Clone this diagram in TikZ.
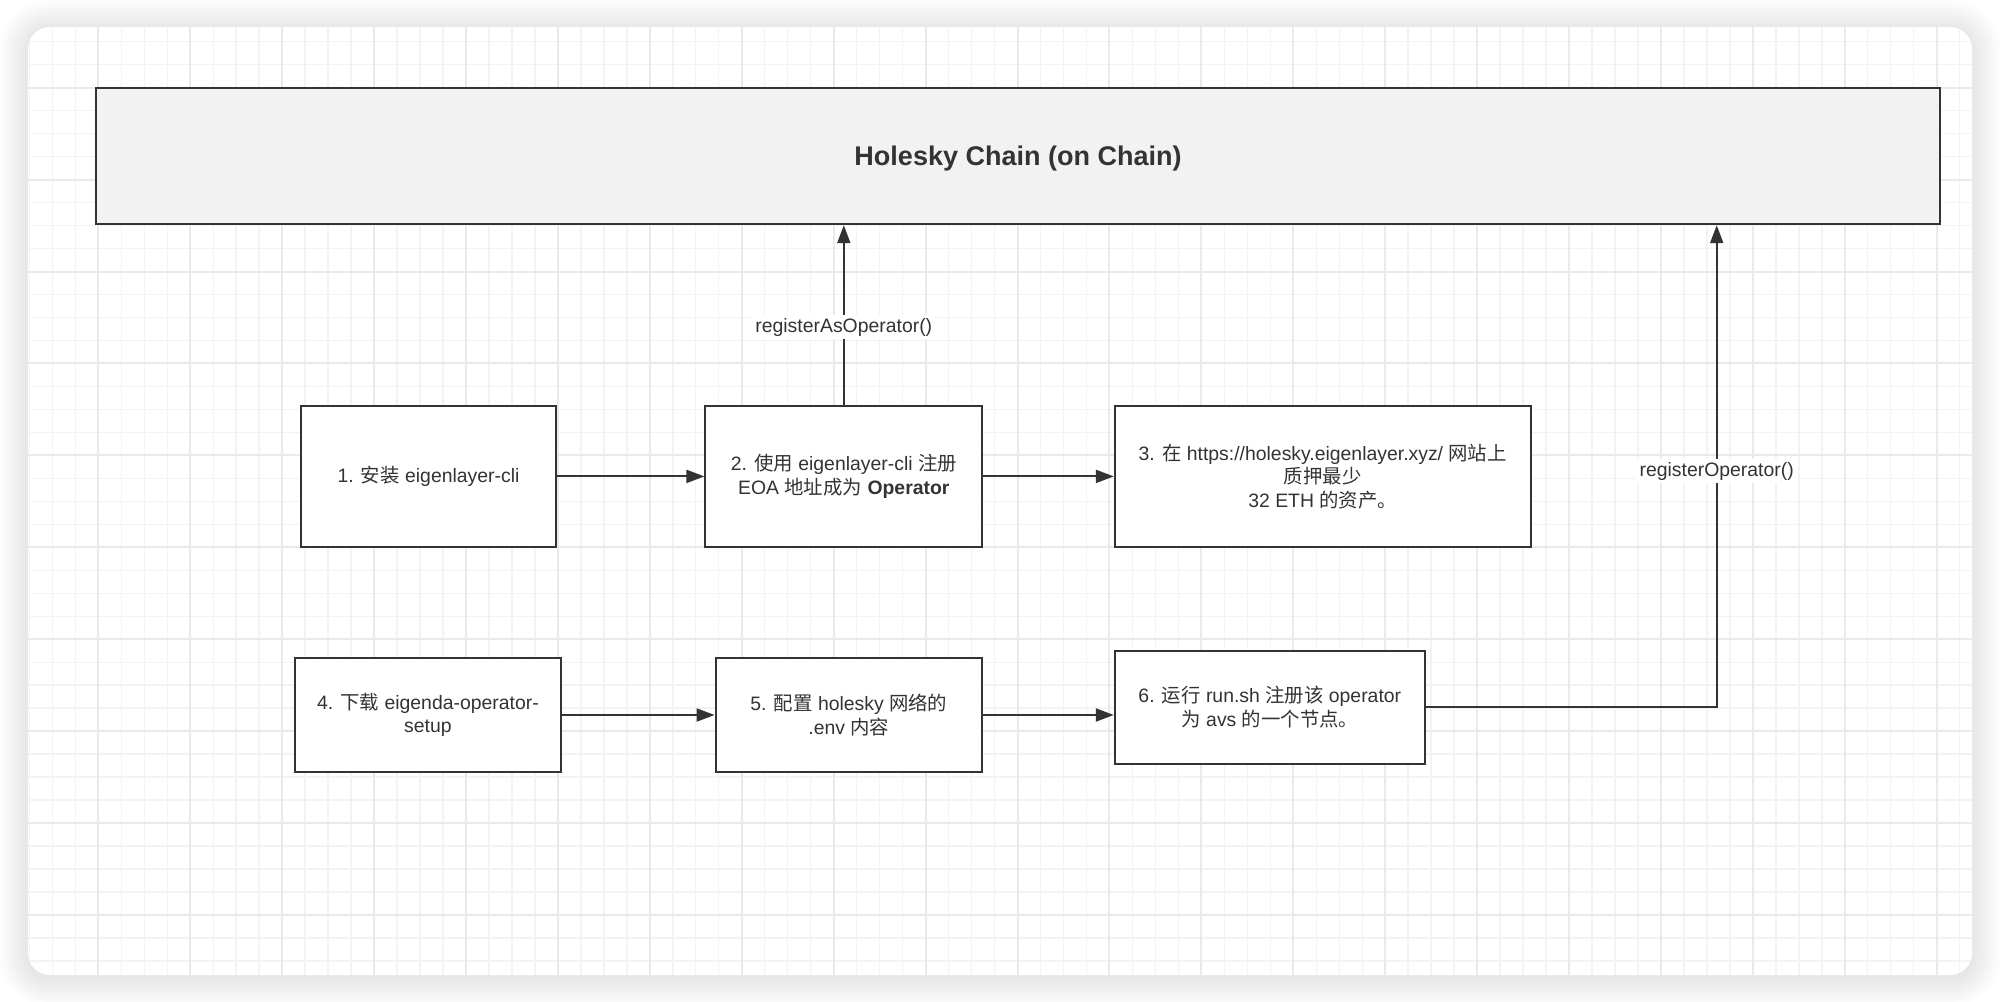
\documentclass[tikz,border=0pt]{standalone}
\usepackage{fontspec}
\setmainfont{Liberation Sans}
\newfontfamily\cjk{Noto Sans CJK SC}
\usetikzlibrary{arrows.meta}
\definecolor{ink}{HTML}{333333}
\definecolor{chainfill}{HTML}{F2F2F2}
\definecolor{gridminor}{HTML}{F3F3F3}
\definecolor{gridmajor}{HTML}{EAEAEA}
\def\cardpath{(28,27) rectangle (1972,975)}
\tikzset{
  stepbox/.style={draw=ink,fill=white,line width=1pt,align=center,text=ink,
    inner sep=2pt,font=\fontsize{9.7}{11.8}\selectfont},
  flow/.style={draw=ink,line width=1pt,-{Triangle[length=9pt,width=6.5pt]}},
  lbl/.style={fill=white,text=ink,inner sep=1.5pt,font=\fontsize{9.7}{11.8}\selectfont}
}

\begin{document}
\begin{tikzpicture}[x=0.5pt,y=-0.5pt]
			\useasboundingbox (0,0) rectangle (2000,1001);
			\fill[white] (0,0) rectangle (2000,1001);
			% soft shadow round the card
			\foreach \i in {1,...,12}
				\fill[black,opacity=0.009,rounded corners=11pt+1.2*\i pt]
					(28-2.4*\i,27-2.4*\i+2) rectangle (1972+2.4*\i,975+2.4*\i+3);
			\fill[white,rounded corners=11pt] \cardpath;
			\begin{scope}
				\clip[rounded corners=11pt] \cardpath;
				\foreach \k in {-3,...,81}
					\draw[gridminor,line width=0.7pt] ({98.3+22.98*\k},27) -- ({98.3+22.98*\k},975);
				\foreach \k in {-2,...,38}
					\draw[gridminor,line width=0.7pt] (28,{87.7+22.98*\k}) -- (1972,{87.7+22.98*\k});
				\foreach \k in {0,...,20}
					\draw[gridmajor,line width=1pt] ({98.3+91.92*\k},27) -- ({98.3+91.92*\k},975);
				\foreach \k in {0,...,9}
					\draw[gridmajor,line width=1pt] (28,{87.7+91.92*\k}) -- (1972,{87.7+91.92*\k});
			\end{scope}

			\node[draw=ink,fill=chainfill,line width=1.2pt,minimum width=922pt,minimum height=68pt,
				text=ink,font=\fontsize{13.5}{16}\selectfont\bfseries] (chain) at (1018,156) {};
			\node[text=ink,font=\fontsize{13.5}{16}\selectfont\bfseries] (title) at (1018,159) {Holesky Chain (on Chain)};

			\node[stepbox,minimum width=127.5pt,minimum height=70.8pt] (install) at (428.5,476.4)
				{1. {\cjk 安装} eigenlayer-cli};
			\node[stepbox,minimum width=138.4pt,minimum height=70.8pt] (register) at (843.8,476.4)
				{2. {\cjk 使用} eigenlayer-cli {\cjk 注册}\\EOA {\cjk 地址成为} \textbf{Operator}};
			\node[stepbox,minimum width=207.9pt,minimum height=70.8pt] (stake) at (1322.7,476.4)
				{3. {\cjk 在} https://holesky.eigenlayer.xyz/ {\cjk 网站上}\\{\cjk 质押最少}\\32 ETH {\cjk 的资产。}};
			\node[stepbox,minimum width=133.3pt,minimum height=56.8pt] (download) at (427.9,715)
				{4. {\cjk 下载} eigenda-operator-\\setup};
			\node[stepbox,minimum width=133.3pt,minimum height=56.8pt] (config) at (848.9,715)
				{5. {\cjk 配置} holesky {\cjk 网络的}\\.env {\cjk 内容}};
			\node[stepbox,minimum width=155pt,minimum height=56.8pt] (run) at (1269.8,707.3)
				{6. {\cjk 运行} run.sh {\cjk 注册该} operator\\{\cjk 为} avs {\cjk 的一个节点。}};

			\coordinate (turn) at (1716.7,707.3);

			\draw[flow] (install) -- (register);
			\draw[flow] (register) -- (stake);
			\draw[flow] (download) -- (config);
			\draw[flow] (config.east) -- (run.west |- config.east);
			\draw[flow] (register.north) -- (register.north |- chain.south);
			\draw[flow] (run.east) -- (turn) -- (turn |- chain.south);

			\node[lbl] (asop) at (843.8,327) {registerAsOperator()};
			\node[lbl] (regop) at (1716.7,471) {registerOperator()};
		\end{tikzpicture}
\end{document}
